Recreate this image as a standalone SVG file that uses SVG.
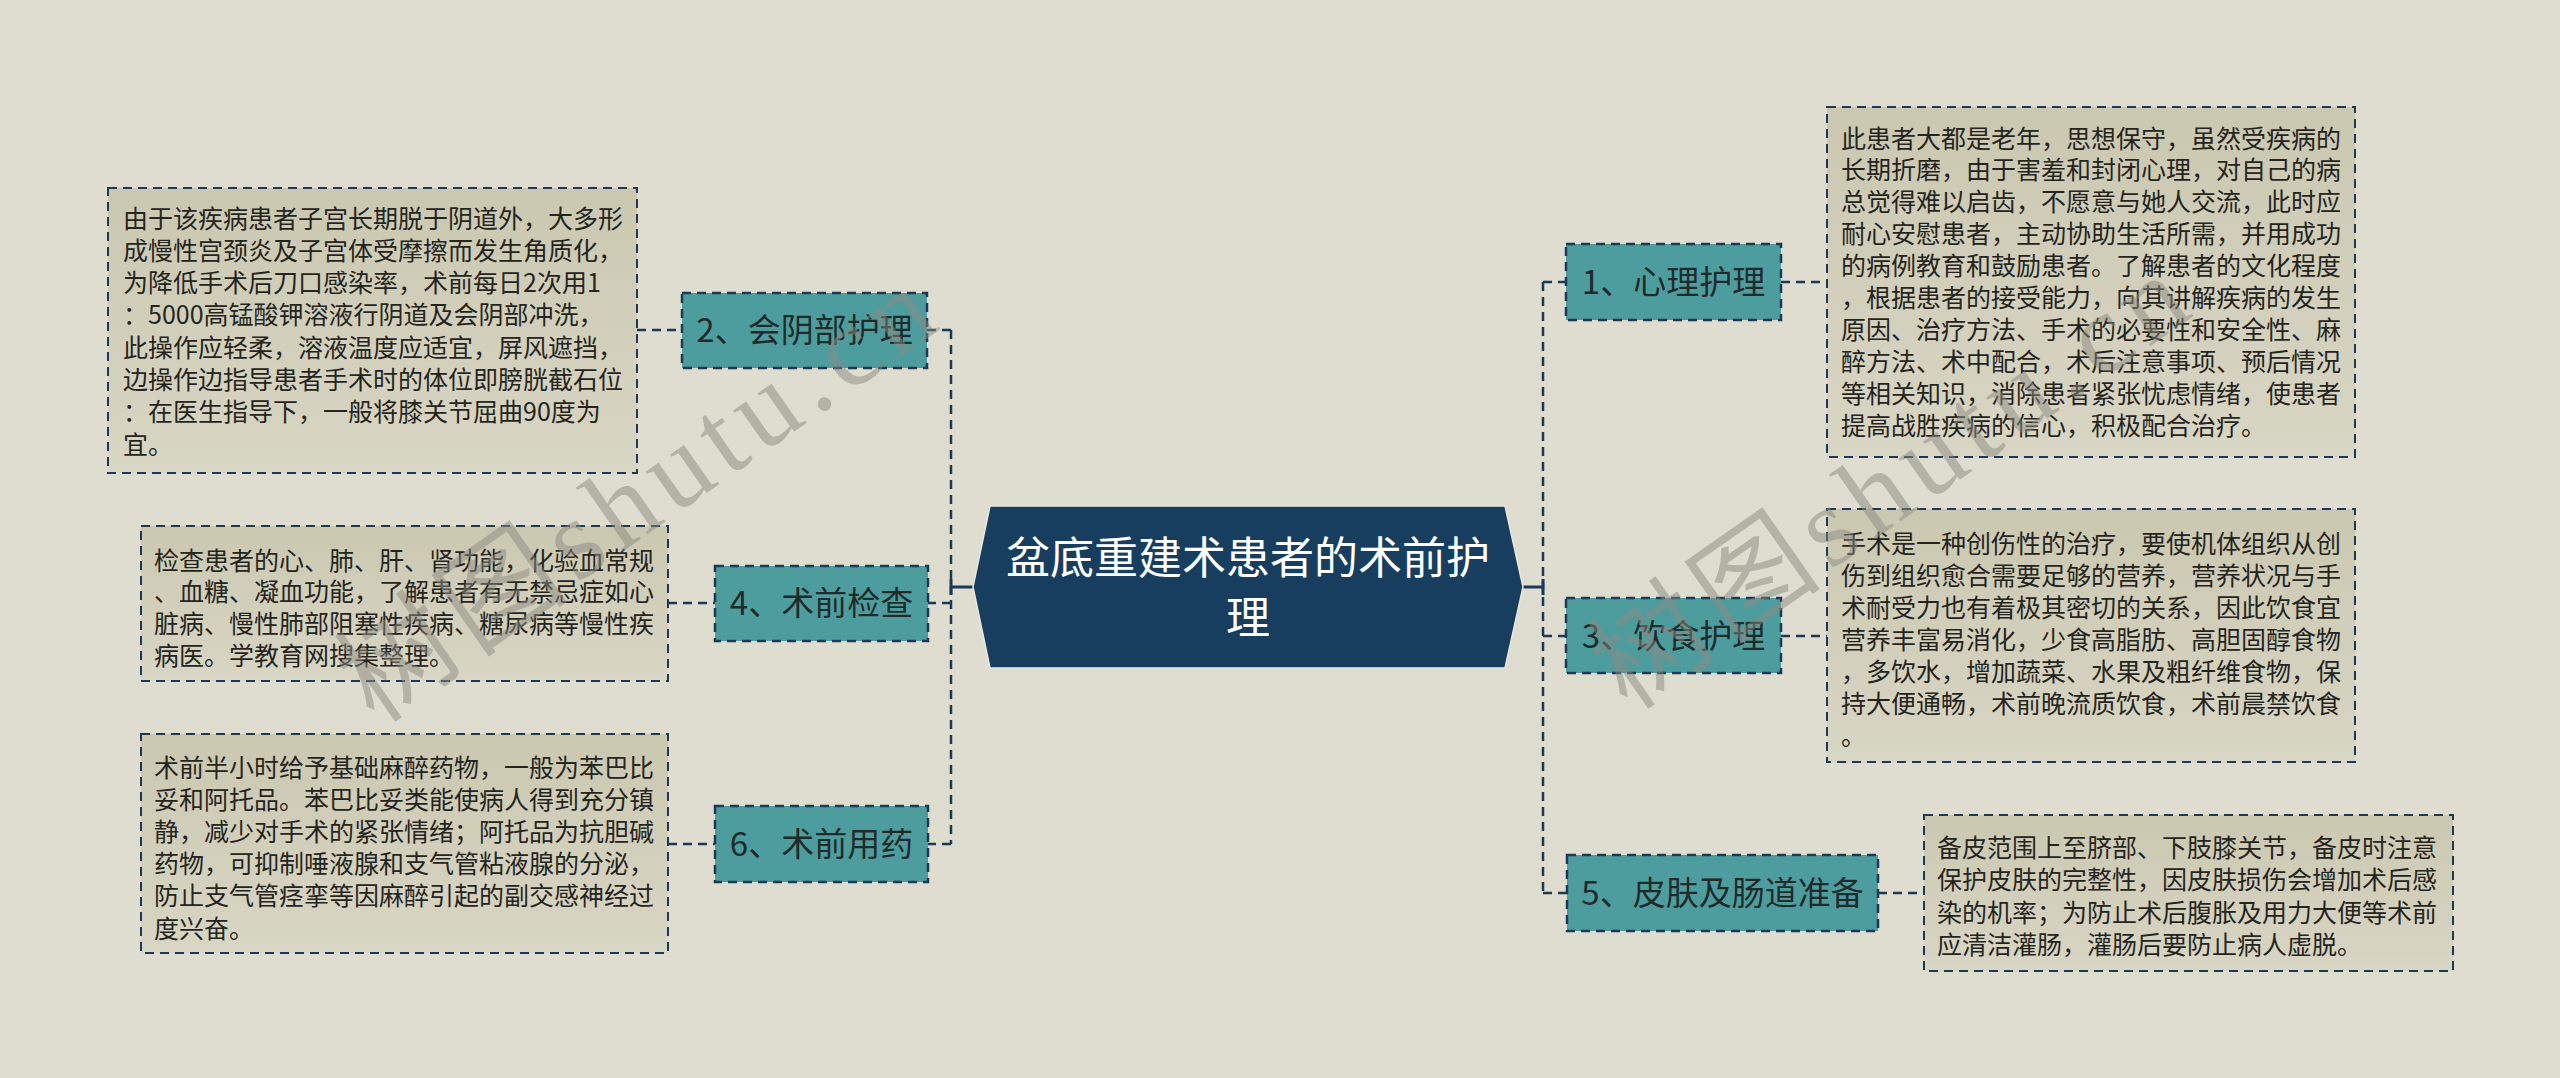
<svg xmlns="http://www.w3.org/2000/svg" width="2560" height="1078" viewBox="0 0 2560 1078">
<defs>
<linearGradient id="boxg" x1="0" y1="0" x2="0" y2="1">
<stop offset="0" stop-color="#cbc8b1"/>
<stop offset="1" stop-color="#d8d6c4"/>
</linearGradient>
<style>
.box{fill:url(#boxg);stroke:#1b3a55;stroke-width:2;stroke-dasharray:9 6}
.node{fill:#4e9d9e;stroke:#1b3a55;stroke-width:2.5;stroke-dasharray:9 6}
.bt{font-family:"Noto Sans CJK SC","Noto Sans",sans-serif;font-size:25px;fill:#25251e}
.nt{font-family:"Noto Sans CJK SC","Noto Sans",sans-serif;font-size:33px;fill:#1f2b2b;text-anchor:middle}
.ct{font-family:"Noto Sans CJK SC","Noto Sans",sans-serif;font-size:44px;fill:#ffffff;text-anchor:middle}
.dl{fill:none;stroke:#1b3a55;stroke-width:2.5;stroke-dasharray:9 6}
.sl{fill:none;stroke:#1b3a55;stroke-width:3}
.wm{font-family:"Liberation Serif","Noto Sans CJK SC",serif;font-size:114px;fill:#8a8a80;fill-opacity:0.5;letter-spacing:9px}
</style>
</defs>
<rect width="2560" height="1078" fill="#dfddd0"/>

<g id="connectors">
<path class="dl" d="M951 330 V844"/>
<path class="dl" d="M927 330 H951 M927 603 H951 M927 844 H951"/>
<path class="dl" d="M637 330 H682 M668 603 H715 M668 844 H715"/>
<path class="sl" d="M973 587 H951 M951 579 V595"/>
<path class="dl" d="M1543 282 V893"/>
<path class="dl" d="M1543 282 H1566 M1543 636 H1566 M1543 893 H1567"/>
<path class="dl" d="M1781 282 H1827 M1781 636 H1827 M1878 893 H1924"/>
<path class="sl" d="M1522 587 H1543 M1543 579 V595"/>
</g>

<g id="root">
<polygon points="990,506 1505,506 1523,587 1505,668 990,668 973,587" fill="#173e5e" stroke="#e9e9df" stroke-width="1.5"/>
<text class="ct" x="1248" y="574">盆底重建术患者的术前护</text>
<text class="ct" x="1248" y="634">理</text>
</g>

<g id="node2">
<rect class="node" x="682" y="293" width="245" height="75"/>
<text class="nt" x="804.5" y="342">2、会阴部护理</text>
</g>
<g id="box2">
<rect class="box" x="108" y="188" width="529" height="285"/>
<text class="bt">
<tspan x="123" y="227.5">由于该疾病患者子宫长期脱于阴道外，大多形</tspan>
<tspan x="123" y="259.8">成慢性宫颈炎及子宫体受摩擦而发生角质化，</tspan>
<tspan x="123" y="292.1">为降低手术后刀口感染率，术前每日2次用1</tspan>
<tspan x="123" y="324.4">：5000高锰酸钾溶液行阴道及会阴部冲洗，</tspan>
<tspan x="123" y="356.7">此操作应轻柔，溶液温度应适宜，屏风遮挡，</tspan>
<tspan x="123" y="389">边操作边指导患者手术时的体位即膀胱截石位</tspan>
<tspan x="123" y="421.3">：在医生指导下，一般将膝关节屈曲90度为</tspan>
<tspan x="123" y="453.6">宜。</tspan>
</text>
</g>

<g id="node4">
<rect class="node" x="715" y="566" width="213" height="75"/>
<text class="nt" x="821.5" y="615">4、术前检查</text>
</g>
<g id="box4">
<rect class="box" x="141" y="526" width="527" height="155"/>
<text class="bt">
<tspan x="154" y="569.5">检查患者的心、肺、肝、肾功能，化验血常规</tspan>
<tspan x="154" y="601.3">、血糖、凝血功能，了解患者有无禁忌症如心</tspan>
<tspan x="154" y="633.1">脏病、慢性肺部阻塞性疾病、糖尿病等慢性疾</tspan>
<tspan x="154" y="664.9">病医。学教育网搜集整理。</tspan>
</text>
</g>

<g id="node6">
<rect class="node" x="715" y="806" width="213" height="76"/>
<text class="nt" x="821.5" y="856">6、术前用药</text>
</g>
<g id="box6">
<rect class="box" x="141" y="734" width="527" height="219"/>
<text class="bt">
<tspan x="154" y="776.5">术前半小时给予基础麻醉药物，一般为苯巴比</tspan>
<tspan x="154" y="808.7">妥和阿托品。苯巴比妥类能使病人得到充分镇</tspan>
<tspan x="154" y="840.9">静，减少对手术的紧张情绪；阿托品为抗胆碱</tspan>
<tspan x="154" y="873.1">药物，可抑制唾液腺和支气管粘液腺的分泌，</tspan>
<tspan x="154" y="905.3">防止支气管痉挛等因麻醉引起的副交感神经过</tspan>
<tspan x="154" y="937.5">度兴奋。</tspan>
</text>
</g>

<g id="node1">
<rect class="node" x="1566" y="244" width="215" height="76"/>
<text class="nt" x="1673.5" y="294">1、心理护理</text>
</g>
<g id="box1">
<rect class="box" x="1827" y="107" width="528" height="350"/>
<text class="bt">
<tspan x="1841" y="147.5">此患者大都是老年，思想保守，虽然受疾病的</tspan>
<tspan x="1841" y="179.4">长期折磨，由于害羞和封闭心理，对自己的病</tspan>
<tspan x="1841" y="211.3">总觉得难以启齿，不愿意与她人交流，此时应</tspan>
<tspan x="1841" y="243.2">耐心安慰患者，主动协助生活所需，并用成功</tspan>
<tspan x="1841" y="275.1">的病例教育和鼓励患者。了解患者的文化程度</tspan>
<tspan x="1841" y="307">，根据患者的接受能力，向其讲解疾病的发生</tspan>
<tspan x="1841" y="338.9">原因、治疗方法、手术的必要性和安全性、麻</tspan>
<tspan x="1841" y="370.8">醉方法、术中配合，术后注意事项、预后情况</tspan>
<tspan x="1841" y="402.7">等相关知识，消除患者紧张忧虑情绪，使患者</tspan>
<tspan x="1841" y="434.6">提高战胜疾病的信心，积极配合治疗。</tspan>
</text>
</g>

<g id="node3">
<rect class="node" x="1566" y="598" width="215" height="75"/>
<text class="nt" x="1673.5" y="648">3、饮食护理</text>
</g>
<g id="box3">
<rect class="box" x="1827" y="509" width="528" height="253"/>
<text class="bt">
<tspan x="1841" y="552.5">手术是一种创伤性的治疗，要使机体组织从创</tspan>
<tspan x="1841" y="584.5">伤到组织愈合需要足够的营养，营养状况与手</tspan>
<tspan x="1841" y="616.5">术耐受力也有着极其密切的关系，因此饮食宜</tspan>
<tspan x="1841" y="648.5">营养丰富易消化，少食高脂肪、高胆固醇食物</tspan>
<tspan x="1841" y="680.5">，多饮水，增加蔬菜、水果及粗纤维食物，保</tspan>
<tspan x="1841" y="712.5">持大便通畅，术前晚流质饮食，术前晨禁饮食</tspan>
<tspan x="1841" y="744.5">。</tspan>
</text>
</g>

<g id="node5">
<rect class="node" x="1567" y="855" width="311" height="76"/>
<text class="nt" x="1722.5" y="905">5、皮肤及肠道准备</text>
</g>
<g id="box5">
<rect class="box" x="1924" y="815" width="529" height="156"/>
<text class="bt">
<tspan x="1937" y="856.5">备皮范围上至脐部、下肢膝关节，备皮时注意</tspan>
<tspan x="1937" y="889">保护皮肤的完整性，因皮肤损伤会增加术后感</tspan>
<tspan x="1937" y="921.5">染的机率；为防止术后腹胀及用力大便等术前</tspan>
<tspan x="1937" y="954">应清洁灌肠，灌肠后要防止病人虚脱。</tspan>
</text>
</g>

<g id="watermark">
<text class="wm" x="375" y="725" transform="rotate(-35 375 725)">树图shutu.cn</text>
<text class="wm" x="1628" y="712" transform="rotate(-35 1628 712)">树图shutu.cn</text>
</g>
</svg>
